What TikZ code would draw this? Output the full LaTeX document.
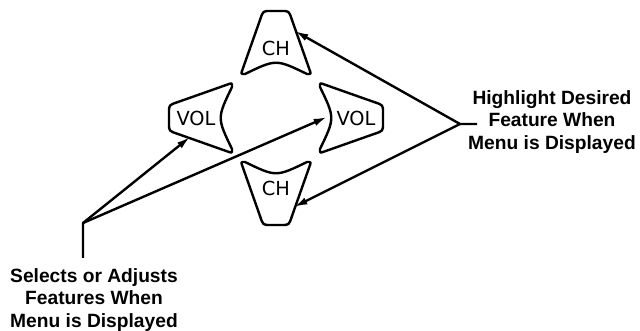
\documentclass[tikz,border=0pt]{standalone}
\usepackage{fontspec}
\usepackage{tikz}
\usetikzlibrary{arrows.meta, calc}
\newfontfamily\keyfont{DejaVu Sans}
\newfontfamily\notefont{Liberation Sans}
\definecolor{mydark}{RGB}{0,0,0}
\tikzset{
  padkey/.style={draw=mydark, line width=1.8pt, line join=round},
  keytext/.style={font=\keyfont\fontsize{14.5}{17}\selectfont, inner sep=0pt},
  note/.style={font=\notefont\bfseries\fontsize{14.4}{16.9}\selectfont,
    align=center, inner sep=0pt},
  pointer/.style={-{Latex[length=10pt, width=5.5pt]}, line width=1.8pt,
    line join=round, color=mydark},
  lead/.style={line width=1.8pt, color=mydark}
}
\begin{document}
\begin{tikzpicture}[x=0.75pt, y=-0.75pt]
  \useasboundingbox (0,0) rectangle (640,331);

  % Four keys of the pad round one centre
  \foreach \ang/\lbl/\dist/\nm in {0/CH/70/chup, 180/CH/70/chdn, 90/VOL/80/voll, -90/VOL/80/volr} {
    \begin{scope}[shift={(276,118)}, rotate=\ang]
      \draw[padkey] (6,-107) .. controls (13,-107) .. (16,-98) -- (34,-47)
        .. controls (35,-44) .. (31,-44) .. controls (0,-59) .. (-31,-44)
        .. controls (-35,-44) .. (-34,-47) -- (-16,-98)
        .. controls (-13,-107) .. (-6,-107) -- cycle;
      \node[keytext] (\nm) at (0,-\dist) {\lbl};
    \end{scope}
  }

  % Ends of the pointers
  \coordinate (tipchup) at (295,31);
  \coordinate (tipchdn) at (294,207);
  \coordinate (tipvoll) at (190,137);
  \coordinate (tipvolr) at (327,117);
  \coordinate (hubr) at (460,124);
  \coordinate (hiltail) at (477,124);
  \coordinate (hubl) at (83,223);
  \coordinate (selfoot) at (83,258);

  % Labels
  \node[note] (hilite) at (552,122) {Highlight Desired\\Feature When\\Menu is Displayed};
  \node[note] (select) at (94,300) {Selects or Adjusts\\Features When\\Menu is Displayed};

  % Pointers
  \draw[pointer] (hiltail) -- (hubr) -- (tipchup);
  \draw[pointer] (hubr) -- (tipchdn);
  \draw[pointer] (selfoot) -- (hubl) -- (tipvoll);
  \draw[pointer] (hubl) -- (tipvolr);
\end{tikzpicture}
\end{document}
